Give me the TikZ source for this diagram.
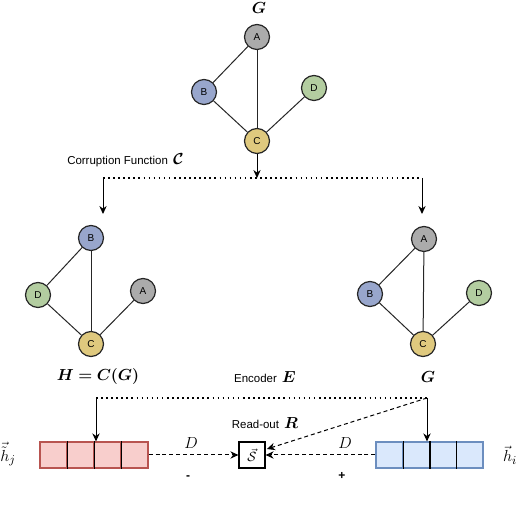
\documentclass[tikz,border=0pt]{standalone}
\usepackage{amsmath}
\usepackage{bm}
\usepackage{fontspec}
\setsansfont{Liberation Sans}
\usetikzlibrary{arrows.meta}
\definecolor{nodeA}{HTML}{ABABAB}
\definecolor{nodeB}{HTML}{98A6CC}
\definecolor{nodeC}{HTML}{DFC97E}
\definecolor{nodeD}{HTML}{B3CDA0}
\definecolor{redfill}{HTML}{F8CECC}
\definecolor{redline}{HTML}{B85450}
\definecolor{bluefill}{HTML}{DAE8FC}
\definecolor{blueline}{HTML}{6C8EBF}
\begin{document}
\begin{tikzpicture}[x=0.75pt,y=-0.75pt,
  gnode/.style={circle,draw=black!85,line width=0.9pt,minimum size=18.75pt,inner sep=0pt,
    font=\sffamily\fontsize{7.5}{9}\selectfont},
  edge/.style={line width=0.75pt,black!85},
  arr/.style={line width=0.75pt,-{Stealth[length=6pt,width=5.5pt]}},
  dotline/.style={line width=1.4pt,dash pattern=on 1.2pt off 2.6pt},
  dasharr/.style={line width=0.75pt,dash pattern=on 3pt off 2.2pt,-{Stealth[length=6pt,width=5.5pt]}},
  redcell/.style={draw=redline,fill=redfill,line width=0.9pt,minimum width=20.25pt,minimum height=19.5pt,inner sep=0pt},
  bluecell/.style={draw=blueline,fill=bluefill,line width=0.9pt,minimum width=20.06pt,minimum height=19.5pt,inner sep=0pt},
  lbl/.style={inner sep=0pt,font=\sffamily\fontsize{8.6}{10}\selectfont},
  mlbl/.style={inner sep=0pt,font=\fontsize{11.5}{13}\selectfont}]
\useasboundingbox (0,0) rectangle (518,516);

% top graph G
\node[mlbl] (tG) at (259,8) {$\bm{G}$};
\node[gnode,fill=nodeA] (gA) at (257,37) {A};
\node[gnode,fill=nodeB] (gB) at (204,92) {B};
\node[gnode,fill=nodeD] (gD) at (314,88) {D};
\node[gnode,fill=nodeC] (gC) at (257,141) {C};
\draw[edge] (gA) -- (gB);
\draw[edge] (gA) -- (gC);
\draw[edge] (gB) -- (gC);
\draw[edge] (gC) -- (gD);

% corruption
\node[lbl,anchor=west] (corr) at (67,160) {Corruption Function \,{\fontsize{11.5}{13}\selectfont$\bm{\mathcal{C}}$}};
\coordinate (cm) at (257,178);
\coordinate (cl) at (103,178);
\coordinate (cr) at (422,178);
\coordinate (tl) at (103,214);
\coordinate (tr) at (422,214);
\draw[arr] (gC) -- (cm);
\draw[dotline] (cl) -- (cr);
\draw[arr] (cl) -- (tl);
\draw[arr] (cr) -- (tr);

% left graph (corrupted)
\node[gnode,fill=nodeB] (lB) at (91,238) {B};
\node[gnode,fill=nodeD] (lD) at (38,295) {D};
\node[gnode,fill=nodeA] (lA) at (143,291) {A};
\node[gnode,fill=nodeC] (lC) at (91,344) {C};
\draw[edge] (lB) -- (lD);
\draw[edge] (lB) -- (lC);
\draw[edge] (lD) -- (lC);
\draw[edge] (lA) -- (lC);

% right graph
\node[gnode,fill=nodeA] (rA) at (424,239) {A};
\node[gnode,fill=nodeB] (rB) at (370,294) {B};
\node[gnode,fill=nodeD] (rD) at (479,293) {D};
\node[gnode,fill=nodeC] (rC) at (423,344) {C};
\draw[edge] (rA) -- (rB);
\draw[edge] (rA) -- (rC);
\draw[edge] (rB) -- (rC);
\draw[edge] (rC) -- (rD);

% encoder labels
\node[mlbl] (hlab) at (98,377) {$\bm{H=C(G)}$};
\node[lbl] (enc) at (265,377) {Encoder \,{\fontsize{11.5}{13}\selectfont$\bm{E}$}};
\node[mlbl] (glab) at (428,377) {$\bm{G}$};
\coordinate (el) at (96,398);
\coordinate (er) at (427,398);
\draw[dotline] (el) -- (er);

% embeddings
\node[redcell] (r1) at (53.5,455) {};
\node[redcell] (r2) at (80.5,455) {};
\node[redcell] (r3) at (107.5,455) {};
\node[redcell] (r4) at (134.5,455) {};
\draw[line width=0.9pt] (r1.north east) -- (r1.south east);
\draw[line width=0.9pt] (r2.north east) -- (r2.south east);
\draw[line width=0.9pt] (r3.north east) -- (r3.south east);
\node[bluecell] (b1) at (389.4,455) {};
\node[bluecell] (b2) at (416.1,455) {};
\node[bluecell] (b3) at (442.9,455) {};
\node[bluecell] (b4) at (469.6,455) {};
\draw[line width=0.9pt] (b1.north east) -- (b1.south east);
\draw[line width=0.9pt] (b2.north east) -- (b2.south east);
\draw[line width=0.9pt] (b3.north east) -- (b3.south east);

\draw[arr] (el) -- (el |- r2.north);
\draw[arr] (er) -- (er |- b2.north);

% readout / discriminator
\node[draw,line width=0.9pt,minimum size=19.5pt,inner sep=0pt,fill=white] (S) at (252,455) {$\vec{\mathcal{S}}$};
\node[lbl] (ro) at (265,423) {Read-out \,{\fontsize{11.5}{13}\selectfont$\bm{R}$}};
\draw[dasharr] (r4.east) -- (S.west);
\draw[dasharr] (b1.west) -- (S.east);
\draw[dasharr] (er) -- ([yshift=4.5pt,xshift=1pt]S.east);

\node[mlbl] (dl) at (191,443) {$D$};
\node[mlbl] (dr) at (345,443) {$D$};
\node[lbl,font=\sffamily\bfseries\fontsize{9}{10}\selectfont] (minus) at (188,478) {-};
\node[lbl,font=\sffamily\bfseries\fontsize{9}{10}\selectfont] (plus) at (342,476) {+};

\node[inner sep=0pt,font=\fontsize{13}{15}\selectfont] (hj) at (8,454) {$\vec{\tilde{h}}_j$};
\node[inner sep=0pt,font=\fontsize{13}{15}\selectfont] (hi) at (510,455) {$\vec{h}_i$};
\end{tikzpicture}
\end{document}
